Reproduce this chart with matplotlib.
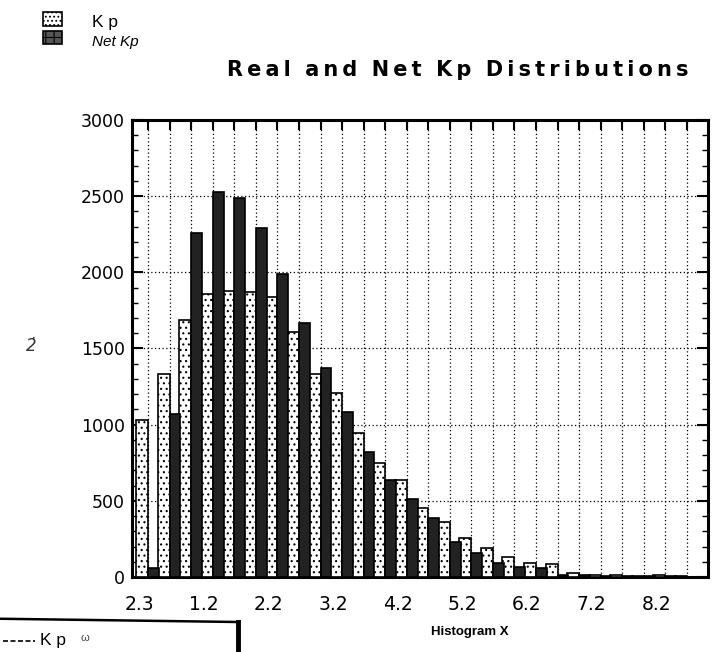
import matplotlib
matplotlib.use("Agg")
import matplotlib.pyplot as plt
from matplotlib.patches import Rectangle
from matplotlib.lines import Line2D
import numpy as np

# bin heights (light = Kp, dark = Net Kp)
kp = [1030, 1330, 1690, 1860, 1880, 1870, 1840, 1610, 1330, 1210, 945, 750, 640,
      455, 360, 255, 190, 130, 92, 85, 25, 15, 10, 8, 10, 5]
net_kp = [60, 1070, 2260, 2530, 2490, 2290, 1990, 1670, 1370, 1080, 820, 640, 515,
          390, 230, 160, 92, 66, 59, 15, 10, 8, 5, 4, 5, 3]
bin_start = 0.14
bin_width = 1 / 3
x_tick_labels = ["2.3", "1.2", "2.2", "3.2", "4.2", "5.2", "6.2", "7.2", "8.2"]
y_ticks = [0, 500, 1000, 1500, 2000, 2500, 3000]
title_words = ["Real", "and", "Net", "Kp", "Distributions"]

plt.rcParams['font.family'] = ['Liberation Sans', 'DejaVu Sans']
plt.rcParams['hatch.linewidth'] = 0.8

fig = plt.figure(figsize=(7.19, 6.52), dpi=100)
ax = fig.add_axes([0.1836, 0.115, 0.8011, 0.701])

centers = bin_start + np.arange(len(kp)) * bin_width
half = bin_width / 2

ax.bar(centers, kp, width=-half - 0.02, align='edge', facecolor='white',
       edgecolor='black', hatch='...', linewidth=1.2, zorder=3)
ax.bar(centers, net_kp, width=half, align='edge', facecolor='#222222',
       edgecolor='black', linewidth=1.2, zorder=3)

ax.set_xlim(-0.11, 8.8)
ax.set_ylim(0, 3000)

ax.set_xticks(range(len(x_tick_labels)))
ax.set_xticklabels(x_tick_labels, fontsize=13.5, family='DejaVu Sans')
ax.set_xticks(centers, minor=True)
ax.set_yticks(y_ticks)
ax.set_yticklabels([str(v) for v in y_ticks], fontsize=12.5, family='DejaVu Sans')
ax.set_yticks(np.arange(0, 3001, 100), minor=True)

ax.tick_params(axis='x', which='major', length=0, pad=13)
ax.tick_params(axis='x', which='minor', top=True, bottom=False,
               direction='in', length=7, width=1.5)
ax.tick_params(axis='y', which='major', left=True, right=True,
               direction='in', length=8, width=1.5, pad=5)
ax.tick_params(axis='y', which='minor', left=True, right=True,
               direction='in', length=4, width=1)

ax.grid(axis='x', which='minor', linestyle=(0, (1, 2)), color='black',
        linewidth=0.9, zorder=1)
ax.grid(axis='y', which='major', linestyle=(0, (1, 2)), color='black',
        linewidth=0.9, zorder=1)

for s in ax.spines.values():
    s.set_linewidth(2.2)

fig.text(0.654, 0.031, "Histogram X", ha='center', va='center', fontsize=9.5,
         fontweight='bold')
title = "  ".join("\u2009".join(w) for w in title_words)
fig.text(0.636, 0.893, title, ha='center', va='center', fontsize=15,
         fontweight='bold', family='DejaVu Sans')
fig.text(0.043, 0.470, "2\u0307", ha='center', va='center', fontsize=12,
         style='italic', color='#333333', family='DejaVu Sans')

# top-left legend
fig.patches.append(Rectangle((0.060, 0.960), 0.026, 0.021, transform=fig.transFigure,
                             facecolor='white', edgecolor='black', hatch='....',
                             linewidth=1.2))
fig.patches.append(Rectangle((0.060, 0.932), 0.026, 0.021, transform=fig.transFigure,
                             facecolor='#555555', edgecolor='black', hatch='++',
                             linewidth=1.2))
fig.text(0.128, 0.966, "K p", ha='left', va='center', fontsize=12.5)
fig.text(0.128, 0.935, "Net Kp", ha='left', va='center', fontsize=11, style='italic')

# cut-off box at bottom left
fig.lines.append(Line2D([0.0, 0.331], [0.051, 0.046], transform=fig.transFigure,
                        color='black', linewidth=1.8))
fig.lines.append(Line2D([0.331, 0.331], [0.046, 0.0], transform=fig.transFigure,
                        color='black', linewidth=3.5))
fig.lines.append(Line2D([0.004, 0.048], [0.017, 0.017], transform=fig.transFigure,
                        color='black', linewidth=1.2, linestyle=(0, (3, 1.5))))
fig.text(0.055, 0.017, "K p", ha='left', va='center', fontsize=12.5)
fig.text(0.112, 0.022, "ω", ha='left', va='center', fontsize=8, color='#444444')

fig.savefig("out.png", dpi=100)
